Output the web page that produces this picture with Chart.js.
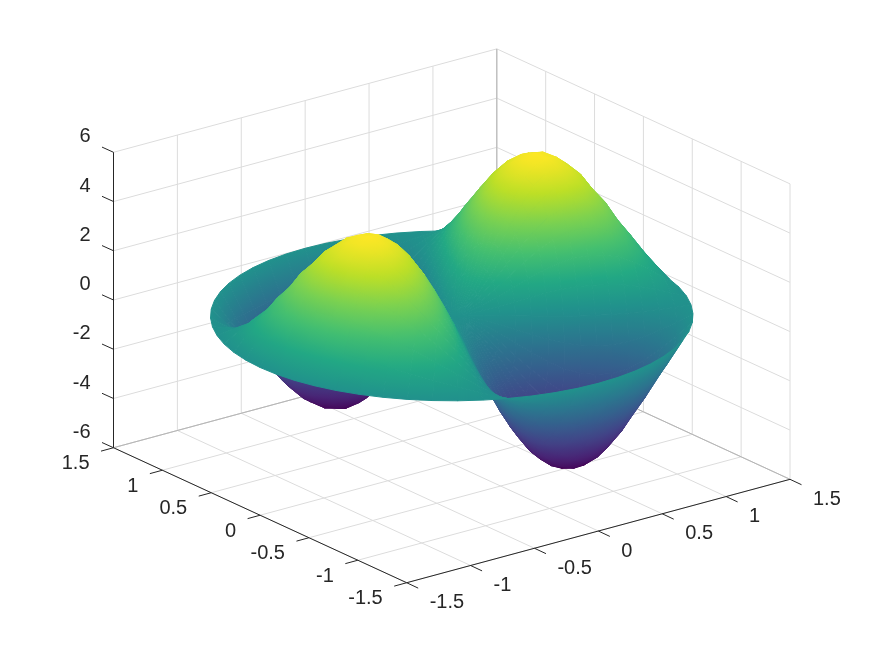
<!DOCTYPE html>
<html>
<head>
<meta charset="utf-8">
<script src="https://cdn.jsdelivr.net/npm/chart.js@4.4.1/dist/chart.umd.min.js"></script>
<style>body { margin: 0; background: #fff; } canvas { display: block; }</style>
</head>
<body>
<canvas id="c" width="873" height="655"></canvas>
<script>
const xTicks = [-1.5, -1, -0.5, 0, 0.5, 1, 1.5];
const yTicks = [-1.5, -1, -0.5, 0, 0.5, 1, 1.5];
const zTicks = [-6, -4, -2, 0, 2, 4, 6];

// polar mesh: rings (radius), spokes (degrees), height per ring/spoke
const radii = [0, 0.1, 0.2, 0.3, 0.4, 0.5, 0.6, 0.7, 0.8, 0.9, 1, 1.1, 1.2, 1.3, 1.4, 1.5];
const angles = [0,6,12,18,24,30,36,42,48,54,60,66,72,78,84,90,96,102,108,114,120,126,132,138,144,150,156,162,168,174,180,186,192,198,204,210,216,222,228,234,240,246,252,258,264,270,276,282,288,294,300,306,312,318,324,330,336,342,348,354];
const heights = [
  [0,0,0,0,0,0,0,0,0,0,0,0,0,0,0,0,0,0,0,0,0,0,0,0,0,0,0,0,0,0,0,0,0,0,0,0,0,0,0,0,0,0,0,0,0,0,0,0,0,0,0,0,0,0,0,0,0,0,0,0],
  [.17,.19,.20,.20,.19,.18,.16,.13,.09,.05,.01,-.03,-.07,-.11,-.14,-.17,-.19,-.20,-.20,-.19,-.18,-.16,-.13,-.09,-.05,-.01,.03,.07,.11,.14,.17,.19,.20,.20,.19,.18,.16,.13,.09,.05,.01,-.03,-.07,-.11,-.14,-.17,-.19,-.20,-.20,-.19,-.18,-.16,-.13,-.09,-.05,-.01,.03,.07,.11,.14],
  [.60,.67,.71,.72,.70,.64,.56,.45,.33,.19,.04,-.11,-.26,-.39,-.51,-.60,-.67,-.71,-.72,-.70,-.64,-.56,-.45,-.33,-.19,-.04,.11,.26,.39,.51,.60,.67,.71,.72,.70,.64,.56,.45,.33,.19,.04,-.11,-.26,-.39,-.51,-.60,-.67,-.71,-.72,-.70,-.64,-.56,-.45,-.33,-.19,-.04,.11,.26,.39,.51],
  [1.21,1.34,1.42,1.44,1.39,1.28,1.12,.91,.65,.37,.07,-.22,-.52,-.78,-1.02,-1.21,-1.34,-1.42,-1.44,-1.39,-1.28,-1.12,-.91,-.65,-.37,-.07,.22,.52,.78,1.02,1.21,1.34,1.42,1.44,1.39,1.28,1.12,.91,.65,.37,.07,-.22,-.52,-.78,-1.02,-1.21,-1.34,-1.42,-1.44,-1.39,-1.28,-1.12,-.91,-.65,-.37,-.07,.22,.52,.78,1.02],
  [1.90,2.12,2.24,2.27,2.19,2.02,1.76,1.43,1.03,.59,.12,-.35,-.81,-1.24,-1.60,-1.90,-2.12,-2.24,-2.27,-2.19,-2.02,-1.76,-1.43,-1.03,-.59,-.12,.35,.81,1.24,1.60,1.90,2.12,2.24,2.27,2.19,2.02,1.76,1.43,1.03,.59,.12,-.35,-.81,-1.24,-1.60,-1.90,-2.12,-2.24,-2.27,-2.19,-2.02,-1.76,-1.43,-1.03,-.59,-.12,.35,.81,1.24,1.60],
  [2.60,2.90,3.06,3.10,2.99,2.76,2.41,1.95,1.41,.80,.16,-.48,-1.11,-1.69,-2.19,-2.60,-2.90,-3.06,-3.10,-2.99,-2.76,-2.41,-1.95,-1.41,-.80,-.16,.48,1.11,1.69,2.19,2.60,2.90,3.06,3.10,2.99,2.76,2.41,1.95,1.41,.80,.16,-.48,-1.11,-1.69,-2.19,-2.60,-2.90,-3.06,-3.10,-2.99,-2.76,-2.41,-1.95,-1.41,-.80,-.16,.48,1.11,1.69,2.19],
  [3.23,3.60,3.80,3.85,3.72,3.43,2.99,2.42,1.75,1.00,.20,-.60,-1.38,-2.10,-2.72,-3.23,-3.60,-3.80,-3.85,-3.72,-3.43,-2.99,-2.42,-1.75,-1.00,-.20,.60,1.38,2.10,2.72,3.23,3.60,3.80,3.85,3.72,3.43,2.99,2.42,1.75,1.00,.20,-.60,-1.38,-2.10,-2.72,-3.23,-3.60,-3.80,-3.85,-3.72,-3.43,-2.99,-2.42,-1.75,-1.00,-.20,.60,1.38,2.10,2.72],
  [3.73,4.15,4.39,4.44,4.29,3.96,3.45,2.79,2.02,1.15,.23,-.69,-1.59,-2.42,-3.14,-3.73,-4.15,-4.39,-4.44,-4.29,-3.96,-3.45,-2.79,-2.02,-1.15,-.23,.69,1.59,2.42,3.14,3.73,4.15,4.39,4.44,4.29,3.96,3.45,2.79,2.02,1.15,.23,-.69,-1.59,-2.42,-3.14,-3.73,-4.15,-4.39,-4.44,-4.29,-3.96,-3.45,-2.79,-2.02,-1.15,-.23,.69,1.59,2.42,3.14],
  [4.03,4.48,4.74,4.80,4.64,4.28,3.73,3.02,2.18,1.24,.25,-.75,-1.72,-2.62,-3.39,-4.03,-4.48,-4.74,-4.80,-4.64,-4.28,-3.73,-3.02,-2.18,-1.24,-.25,.75,1.72,2.62,3.39,4.03,4.48,4.74,4.80,4.64,4.28,3.73,3.02,2.18,1.24,.25,-.75,-1.72,-2.62,-3.39,-4.03,-4.48,-4.74,-4.80,-4.64,-4.28,-3.73,-3.02,-2.18,-1.24,-.25,.75,1.72,2.62,3.39],
  [4.11,4.58,4.84,4.90,4.73,4.37,3.81,3.08,2.22,1.27,.25,-.76,-1.75,-2.67,-3.46,-4.11,-4.58,-4.84,-4.90,-4.73,-4.37,-3.81,-3.08,-2.22,-1.27,-.25,.76,1.75,2.67,3.46,4.11,4.58,4.84,4.90,4.73,4.37,3.81,3.08,2.22,1.27,.25,-.76,-1.75,-2.67,-3.46,-4.11,-4.58,-4.84,-4.90,-4.73,-4.37,-3.81,-3.08,-2.22,-1.27,-.25,.76,1.75,2.67,3.46],
  [3.99,4.44,4.69,4.75,4.59,4.23,3.69,2.99,2.16,1.23,.25,-.74,-1.70,-2.59,-3.36,-3.99,-4.44,-4.69,-4.75,-4.59,-4.23,-3.69,-2.99,-2.16,-1.23,-.25,.74,1.70,2.59,3.36,3.99,4.44,4.69,4.75,4.59,4.23,3.69,2.99,2.16,1.23,.25,-.74,-1.70,-2.59,-3.36,-3.99,-4.44,-4.69,-4.75,-4.59,-4.23,-3.69,-2.99,-2.16,-1.23,-.25,.74,1.70,2.59,3.36],
  [3.61,4.02,4.25,4.30,4.15,3.83,3.34,2.70,1.95,1.11,.22,-.67,-1.54,-2.34,-3.04,-3.61,-4.02,-4.25,-4.30,-4.15,-3.83,-3.34,-2.70,-1.95,-1.11,-.22,.67,1.54,2.34,3.04,3.61,4.02,4.25,4.30,4.15,3.83,3.34,2.70,1.95,1.11,.22,-.67,-1.54,-2.34,-3.04,-3.61,-4.02,-4.25,-4.30,-4.15,-3.83,-3.34,-2.70,-1.95,-1.11,-.22,.67,1.54,2.34,3.04],
  [2.94,3.27,3.46,3.50,3.38,3.12,2.72,2.20,1.59,.91,.18,-.55,-1.25,-1.91,-2.47,-2.94,-3.27,-3.46,-3.50,-3.38,-3.12,-2.72,-2.20,-1.59,-.91,-.18,.55,1.25,1.91,2.47,2.94,3.27,3.46,3.50,3.38,3.12,2.72,2.20,1.59,.91,.18,-.55,-1.25,-1.91,-2.47,-2.94,-3.27,-3.46,-3.50,-3.38,-3.12,-2.72,-2.20,-1.59,-.91,-.18,.55,1.25,1.91,2.47],
  [2.06,2.29,2.42,2.45,2.37,2.18,1.90,1.54,1.11,.63,.13,-.38,-.88,-1.34,-1.73,-2.06,-2.29,-2.42,-2.45,-2.37,-2.18,-1.90,-1.54,-1.11,-.63,-.13,.38,.88,1.34,1.73,2.06,2.29,2.42,2.45,2.37,2.18,1.90,1.54,1.11,.63,.13,-.38,-.88,-1.34,-1.73,-2.06,-2.29,-2.42,-2.45,-2.37,-2.18,-1.90,-1.54,-1.11,-.63,-.13,.38,.88,1.34,1.73],
  [1.09,1.21,1.28,1.30,1.26,1.16,1.01,.82,.59,.34,.07,-.20,-.47,-.71,-.92,-1.09,-1.21,-1.28,-1.30,-1.26,-1.16,-1.01,-.82,-.59,-.34,-.07,.20,.47,.71,.92,1.09,1.21,1.28,1.30,1.26,1.16,1.01,.82,.59,.34,.07,-.20,-.47,-.71,-.92,-1.09,-1.21,-1.28,-1.30,-1.26,-1.16,-1.01,-.82,-.59,-.34,-.07,.20,.47,.71,.92],
  [0,0,0,0,0,0,0,0,0,0,0,0,0,0,0,0,0,0,0,0,0,0,0,0,0,0,0,0,0,0,0,0,0,0,0,0,0,0,0,0,0,0,0,0,0,0,0,0,0,0,0,0,0,0,0,0,0,0,0,0]
];

const viridis = ['#440154','#482475','#414487','#355f8d','#2a788e','#21918c','#22a884','#44bf70','#7ad151','#bddf26','#fde725'];
const zLow = -4.9, zHigh = 4.9;

// view of the box, in canvas units per data unit
function project(x, y, z) {
  return {
    x: 451.75 + x * 127.77 - y * 97.73,
    y: 315.8 - x * 34.47 - y * 45 - z * 24.62
  };
}
function depth(x, y, z) { return -0.527 * x - 0.687 * y + 0.125 * z; }

function hex(c) { return [1, 3, 5].map(i => parseInt(c.substr(i, 2), 16)); }
function colorAt(z) {
  const t = Math.min(1, Math.max(0, (z - zLow) / (zHigh - zLow))) * (viridis.length - 1);
  const i = Math.min(viridis.length - 2, Math.floor(t));
  const a = hex(viridis[i]), b = hex(viridis[i + 1]), f = t - i;
  return 'rgb(' + a.map((v, k) => Math.round(v + (b[k] - v) * f)).join(',') + ')';
}

const canvas = document.getElementById('c');
const ctx2d = canvas.getContext('2d');

// paint one facet with a linear gradient following its height change on screen
function facetPaint(pts, zs) {
  const n = pts.length;
  const cx = pts.reduce((s, p) => s + p.x, 0) / n, cy = pts.reduce((s, p) => s + p.y, 0) / n;
  const cz = zs.reduce((s, v) => s + v, 0) / n;
  let sxx = 0, sxy = 0, syy = 0, sxz = 0, syz = 0;
  pts.forEach((p, i) => {
    const dx = p.x - cx, dy = p.y - cy, dz = zs[i] - cz;
    sxx += dx * dx; sxy += dx * dy; syy += dy * dy; sxz += dx * dz; syz += dy * dz;
  });
  const det = sxx * syy - sxy * sxy;
  const lo = Math.min(...zs), hi = Math.max(...zs);
  if (Math.abs(det) < 1e-3 || hi - lo < 1e-3) return colorAt(cz);
  const a = (sxz * syy - syz * sxy) / det, b = (syz * sxx - sxz * sxy) / det;
  const g2 = a * a + b * b;
  if (g2 < 1e-9) return colorAt(cz);
  const g = ctx2d.createLinearGradient(
    cx - a * (cz - lo) / g2, cy - b * (cz - lo) / g2,
    cx + a * (hi - cz) / g2, cy + b * (hi - cz) / g2);
  for (let k = 0; k <= 4; k++) g.addColorStop(k / 4, colorAt(lo + (hi - lo) * k / 4));
  return g;
}

function line(points, color, width) {
  return { data: points, showLine: true, fill: false, borderColor: color, borderWidth: width, pointRadius: 0 };
}

const facets = [];
for (let r = 0; r < radii.length - 1; r++) {
  for (let a = 0; a < angles.length; a++) {
    const b = (a + 1) % angles.length;
    const corners = [[r, a], [r, b], [r + 1, b], [r + 1, a]].map(([i, j]) => {
      const th = angles[j] * Math.PI / 180;
      return { x: radii[i] * Math.cos(th), y: radii[i] * Math.sin(th), z: heights[i][j] };
    });
    const pts = corners.map(p => project(p.x, p.y, p.z));
    const paint = facetPaint(pts, corners.map(p => p.z));
    const d = corners.reduce((s, p) => s + depth(p.x, p.y, p.z), 0) / 4;
    facets.push({ d, set: {
      data: pts.concat([pts[0]]), showLine: true, fill: 'shape', backgroundColor: paint,
      borderColor: paint, borderWidth: 1, pointRadius: 0
    } });
  }
}
facets.sort((p, q) => q.d - p.d);

// back walls and floor
const gridColor = '#dcdcdc', edgeColor = '#b4b4b4';
const xMin = xTicks[0], xMax = xTicks[xTicks.length - 1];
const yMin = yTicks[0], yMax = yTicks[yTicks.length - 1];
const zMin = zTicks[0], zMax = zTicks[zTicks.length - 1];
const grid = [];
xTicks.forEach(v => {
  grid.push(line([project(v, yMax, zMin), project(v, yMax, zMax)], gridColor, 1));
  grid.push(line([project(v, yMin, zMin), project(v, yMax, zMin)], gridColor, 1));
});
yTicks.forEach(v => {
  grid.push(line([project(xMax, v, zMin), project(xMax, v, zMax)], gridColor, 1));
  grid.push(line([project(xMin, v, zMin), project(xMax, v, zMin)], gridColor, 1));
});
zTicks.forEach(v => {
  grid.push(line([project(xMin, yMax, v), project(xMax, yMax, v)], gridColor, 1));
  grid.push(line([project(xMax, yMax, v), project(xMax, yMin, v)], gridColor, 1));
});
const edges = [
  line([project(xMax, yMax, zMin), project(xMax, yMax, zMax)], edgeColor, 1),
  line([project(xMin, yMax, zMin), project(xMax, yMax, zMin)], edgeColor, 1),
  line([project(xMax, yMax, zMin), project(xMax, yMin, zMin)], edgeColor, 1)
];

// front axes and their tick marks
const axisColor = '#262626';
const axes = [
  line([project(xMin, yMax, zMin), project(xMin, yMax, zMax)], axisColor, 1),
  line([project(xMin, yMin, zMin), project(xMin, yMax, zMin)], axisColor, 1),
  line([project(xMin, yMin, zMin), project(xMax, yMin, zMin)], axisColor, 1)
];
function tick(p, dx, dy) { return line([p, { x: p.x + dx, y: p.y + dy }], axisColor, 1); }
zTicks.forEach(v => axes.push(tick(project(xMin, yMax, v), -11.5, -5.2)));
yTicks.forEach(v => axes.push(tick(project(xMin, v, zMin), -12.5, 3.4)));
xTicks.forEach(v => axes.push(tick(project(v, yMin, zMin), 11.5, 5.4)));

const tickText = {
  id: 'tickText',
  afterDraw(chart) {
    const c = chart.ctx, sx = chart.scales.x, sy = chart.scales.y;
    const put = (p, dx, dy, s) => c.fillText(s, sx.getPixelForValue(p.x) + dx, sy.getPixelForValue(p.y) + dy);
    c.save();
    c.fillStyle = axisColor;
    c.font = '20px "Liberation Sans", Arial, sans-serif';
    c.textBaseline = 'middle';
    c.textAlign = 'right';
    zTicks.forEach(v => put(project(xMin, yMax, v), -23, -15.5, String(v)));
    yTicks.forEach(v => put(project(xMin, v, zMin), -24, 16, String(v)));
    c.textAlign = 'left';
    xTicks.forEach(v => put(project(v, yMin, zMin), 23, 20, String(v)));
    c.restore();
  }
};

new Chart(canvas, {
  type: 'scatter',
  data: { datasets: axes.concat(facets.map(f => f.set), edges, grid) },
  options: {
    responsive: false,
    animation: false,
    layout: { padding: 0 },
    elements: { line: { tension: 0, borderJoinStyle: 'round' } },
    plugins: { legend: { display: false }, tooltip: { enabled: false }, title: { display: false } },
    scales: {
      x: { type: 'linear', min: 0, max: 873, display: false },
      y: { type: 'linear', min: 0, max: 655, reverse: true, display: false }
    }
  },
  plugins: [tickText]
});
</script>
</body>
</html>
